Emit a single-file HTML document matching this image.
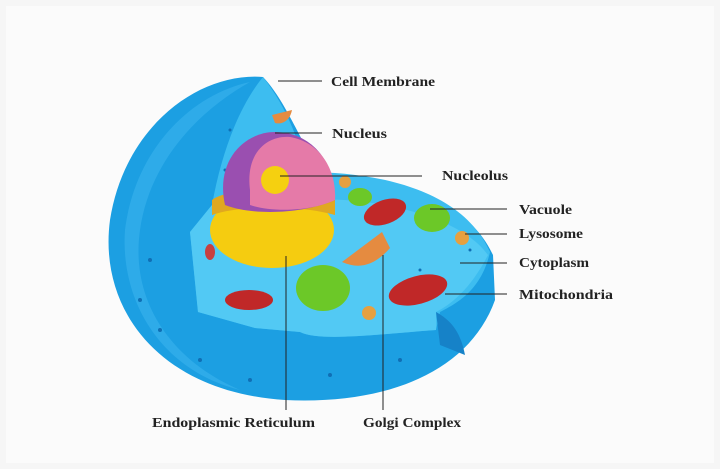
<!DOCTYPE html>
<html><head><style>
html,body{margin:0;padding:0;background:#fff}
svg{display:block}
text{font-family:"Liberation Serif",serif;font-weight:bold;font-size:14px;fill:#222}
</style></head><body>
<svg width="720" height="469" viewBox="0 0 720 469" xmlns="http://www.w3.org/2000/svg">
<rect width="720" height="469" fill="#f6f6f6"/>
<rect x="6" y="6" width="708" height="457" fill="#fbfbfb"/>
<!-- outer cell -->
<path d="M263,77 C200,72 125,125 110,220 C98,310 160,392 285,400 C390,405 470,370 495,300 L493,255 C470,205 410,180 320,172 C300,140 285,100 263,77Z" fill="#1c9fe2"/>
<path d="M250,82 C190,95 135,150 125,230 C120,300 160,370 240,390 C170,360 130,300 140,230 C150,160 200,110 250,82Z" fill="#3ab4ee" opacity="0.6"/>
<!-- interior cutaway -->
<path d="M263,77 C285,105 300,140 305,172 C390,172 465,195 490,252 C482,288 460,302 440,312 L436,330 C380,334 320,342 300,332 L255,328 L198,312 L190,232 L212,205 C222,150 240,105 263,77Z" fill="#3dbdf0"/>
<path d="M212,205 L300,200 C370,195 460,215 488,255 C470,290 450,305 436,312 L436,330 C380,334 320,342 300,332 L255,328 L198,312 L190,232Z" fill="#52c9f4"/>
<path d="M436,312 C450,320 460,330 465,355 L440,345Z" fill="#1682c8"/>
<g fill="#0f6fb5">
<circle cx="150" cy="260" r="2"/><circle cx="160" cy="330" r="2"/><circle cx="200" cy="360" r="2"/><circle cx="250" cy="380" r="2"/><circle cx="330" cy="375" r="2"/><circle cx="400" cy="360" r="2"/><circle cx="140" cy="300" r="2"/><circle cx="230" cy="130" r="1.5"/><circle cx="225" cy="170" r="1.5"/><circle cx="320" cy="250" r="1.5"/><circle cx="420" cy="270" r="1.5"/><circle cx="470" cy="250" r="1.5"/></g>
<ellipse cx="272" cy="230" rx="62" ry="38" fill="#f5cc10"/>
<path d="M212,200 C230,185 320,185 335,200 L335,215 C300,205 240,205 212,215Z" fill="#e0a820"/>
<path d="M225,205 C215,160 245,132 275,132 C310,132 335,160 335,200 C300,215 250,215 225,205Z" fill="#9a4fb0"/>
<path d="M250,190 C245,150 270,135 290,137 C320,142 337,170 335,200 C310,212 270,212 250,205Z" fill="#e57aa8"/>
<circle cx="275" cy="180" r="14" fill="#f5d010"/>
<path d="M272,115 L292,110 C290,120 283,125 275,123Z" fill="#e58b40"/>
<g fill="#c02828">
<ellipse cx="385" cy="212" rx="22" ry="12" transform="rotate(-20 385 212)"/>
<ellipse cx="418" cy="290" rx="30" ry="14" transform="rotate(-15 418 290)"/>
<ellipse cx="249" cy="300" rx="24" ry="10"/></g>
<g fill="#6cc828"><ellipse cx="360" cy="197" rx="12" ry="9"/><ellipse cx="432" cy="218" rx="18" ry="14"/><ellipse cx="323" cy="288" rx="27" ry="23"/></g>
<path d="M342,262 L382,232 L390,248 C375,265 360,270 342,262Z" fill="#e58b40"/>
<circle cx="462" cy="238" r="7" fill="#e5a040"/><circle cx="345" cy="182" r="6" fill="#e5a040"/><circle cx="369" cy="313" r="7" fill="#e5a040"/><ellipse cx="210" cy="252" rx="5" ry="8" fill="#c84040"/>
<g stroke="#222" stroke-width="1">
<line x1="278" y1="81" x2="322" y2="81"/><line x1="275" y1="133" x2="322" y2="133"/><line x1="280" y1="176" x2="422" y2="176"/><line x1="430" y1="209" x2="507" y2="209"/><line x1="465" y1="234" x2="507" y2="234"/><line x1="460" y1="263" x2="507" y2="263"/><line x1="445" y1="294" x2="507" y2="294"/><line x1="286" y1="256" x2="286" y2="410"/><line x1="383" y1="255" x2="383" y2="410"/>
</g>
<text x="331" y="86" textLength="104" lengthAdjust="spacingAndGlyphs">Cell Membrane</text>
<text x="332" y="138" textLength="55" lengthAdjust="spacingAndGlyphs">Nucleus</text>
<text x="442" y="180" textLength="66" lengthAdjust="spacingAndGlyphs">Nucleolus</text>
<text x="519" y="214" textLength="53" lengthAdjust="spacingAndGlyphs">Vacuole</text>
<text x="519" y="238" textLength="64" lengthAdjust="spacingAndGlyphs">Lysosome</text>
<text x="519" y="267" textLength="70" lengthAdjust="spacingAndGlyphs">Cytoplasm</text>
<text x="519" y="299" textLength="94" lengthAdjust="spacingAndGlyphs">Mitochondria</text>
<text x="152" y="427" textLength="163" lengthAdjust="spacingAndGlyphs">Endoplasmic Reticulum</text>
<text x="363" y="427" textLength="98" lengthAdjust="spacingAndGlyphs">Golgi Complex</text>
</svg>
</body></html>
